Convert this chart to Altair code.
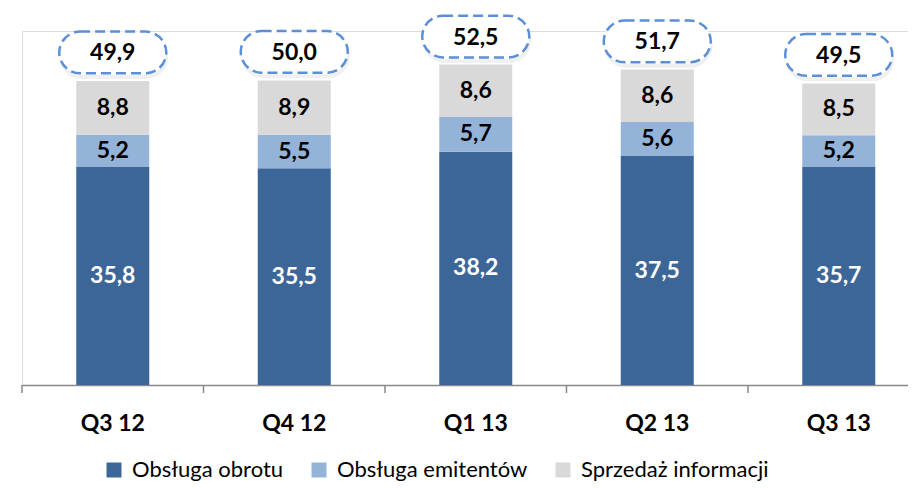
import altair as alt
import pandas as pd

quarters = ["Q3 12", "Q4 12", "Q1 13", "Q2 13", "Q3 13"]
series_names = ["Obsługa obrotu", "Obsługa emitentów", "Sprzedaż informacji"]
obrotu = [35.8, 35.5, 38.2, 37.5, 35.7]
emitentow = [5.2, 5.5, 5.7, 5.6, 5.2]
informacji = [8.8, 8.9, 8.6, 8.6, 8.5]
totals = [49.9, 50.0, 52.5, 51.7, 49.5]
colors = ["#3d6698", "#94b3d8", "#d9d9d9"]

rows = []
for i, q in enumerate(quarters):
    for j, (name, vals) in enumerate(zip(series_names, [obrotu, emitentow, informacji])):
        rows.append({"quarter": q, "series": name, "idx": j, "value": vals[i]})
df = pd.DataFrame(rows)
df_tot = pd.DataFrame({"quarter": quarters, "total": totals})

FONT = "Lato"
PLOT_H = 354

x_enc = alt.X(
    "quarter:N",
    sort=quarters,
    scale=alt.Scale(domain=quarters, range=[0, 907.5], paddingInner=0, paddingOuter=0),
    axis=alt.Axis(
        title=None, labelAngle=0, labelFont=FONT, labelFontSize=23, labelFontWeight="bold",
        labelColor="black", domainColor="#898989", domainWidth=1.5, ticks=False,
        labelPadding=27, labelBaseline="top", grid=False,
    ),
)
x_plain = alt.X("quarter:N", sort=quarters)
y_scale = alt.Scale(domain=[0, 58], nice=False, zero=True)

base = alt.Chart(df)

bars = base.mark_bar(size=73).encode(
    x=x_enc,
    y=alt.Y("value:Q", stack="zero", scale=y_scale, axis=None),
    color=alt.Color(
        "series:N",
        scale=alt.Scale(domain=series_names, range=colors),
        legend=alt.Legend(
            orient="none", legendX=81, legendY=428, direction="horizontal", title=None,
            symbolType="square", symbolSize=225, symbolStrokeWidth=0,
            labelFont=FONT, labelFontSize=22, labelColor="black",
            columnPadding=24, labelOffset=7, labelLimit=400,
        ),
    ),
    order=alt.Order("idx:Q", sort="ascending"),
)

ticks = alt.Chart(df_tot).mark_rule(color="#898989", strokeWidth=1.5).encode(
    x=alt.X("quarter:N", sort=quarters, bandPosition=0),
    y=alt.value(PLOT_H),
    y2=alt.value(PLOT_H + 8),
)

labels = base.transform_stack(
    stack="value", groupby=["quarter"], as_=["v0", "v1"],
    sort=[alt.SortField("idx", order="ascending")],
).transform_calculate(
    mid="(datum.v0 + datum.v1) / 2",
    label="replace(format(datum.value, '.1f'), '.', ',')",
).mark_text(font=FONT, fontSize=23, fontWeight="bold", baseline="middle", align="center").encode(
    x=x_plain,
    y=alt.Y("mid:Q", scale=y_scale, axis=None),
    text="label:N",
    color=alt.condition(alt.datum.idx == 0, alt.value("white"), alt.value("black")),
)

tot_base = alt.Chart(df_tot).transform_calculate(
    label="replace(format(datum.total, '.1f'), '.', ',')"
)

k = 0.2154
box_path = (
    "M -0.61 -0.39 L 0.61 -0.39 "
    f"C {0.61 + k} -0.39 1 {-k} 1 0 "
    f"C 1 {k} {0.61 + k} 0.39 0.61 0.39 "
    "L -0.61 0.39 "
    f"C {-0.61 - k} 0.39 -1 {k} -1 0 "
    f"C -1 {-k} {-0.61 - k} -0.39 -0.61 -0.39 Z"
)

shadow = tot_base.mark_point(
    shape=box_path, size=105 * 105, filled=False, stroke="#d6d6d6", strokeWidth=4,
    opacity=0.35, yOffset=-24, xOffset=1,
).encode(x=x_plain, y=alt.Y("total:Q", scale=y_scale, axis=None))

boxes = tot_base.mark_point(
    shape=box_path, size=107 * 107, filled=True, fill="white", stroke="#5b8fd6",
    strokeWidth=2.5, strokeDash=[10, 5], opacity=1, yOffset=-28,
).encode(x=x_plain, y=alt.Y("total:Q", scale=y_scale, axis=None))

tot_text = tot_base.mark_text(
    font=FONT, fontSize=23, fontWeight="bold", baseline="middle", align="center",
    color="black", yOffset=-27,
).encode(x=x_plain, y=alt.Y("total:Q", scale=y_scale, axis=None), text="label:N")

chart = alt.layer(bars, ticks, labels, shadow, boxes, tot_text).properties(
    width=886, height=PLOT_H,
    autosize=alt.AutoSizeParams(type="none"),
    padding={"left": 14, "top": 23, "right": 0, "bottom": 103},
).configure_view(
    strokeWidth=0, stroke="transparent"
).configure_axisY(
    domain=False, ticks=False, labels=False, grid=False
).configure_axisX(
    grid=False
).configure(background="white")

chart.save("out.html", embed_options={"renderer": "svg", "actions": False})
